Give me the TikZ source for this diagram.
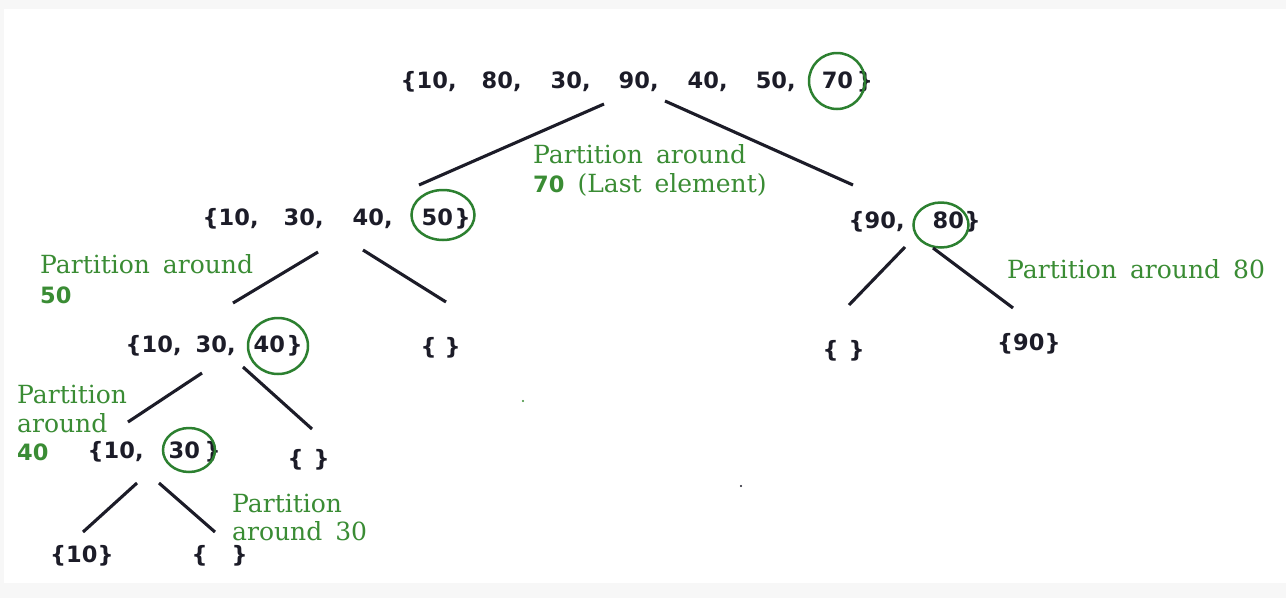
\documentclass[tikz,border=0pt]{standalone}
\usepackage{fontspec}
\setmainfont{DejaVu Serif}
\newfontfamily\datafont{DejaVu Sans}
\usetikzlibrary{shapes.geometric}
\definecolor{ink}{RGB}{28,28,40}
\definecolor{grn}{RGB}{58,140,52}
\definecolor{grc}{RGB}{44,128,48}
\definecolor{bggray}{RGB}{247,247,247}
\newcommand\tk[2]{\rlap{\hspace*{#1pt}#2}}
\newcommand\wsp{\hspace*{13pt}}
\newcommand\dnum[1]{{\datafont\bfseries\fontsize{22.5}{26}\selectfont #1}}
\tikzset{
  dat/.style={anchor=base west, inner sep=0pt, text=ink,
    font=\datafont\bfseries\fontsize{22.5}{26}\selectfont},
  lbl/.style={anchor=base west, inner sep=0pt, text=grn,
    font=\fontsize{25}{29}\selectfont},
  edge/.style={line width=3.1pt, draw=ink},
  pivot/.style={draw=grc, line width=2.5pt, ellipse, inner sep=0pt},
}
\begin{document}
\begin{tikzpicture}[x=1pt,y=-1pt]
\useasboundingbox (0,0) rectangle (1286,598);
\fill[bggray] (0,0) rectangle (1286,598);
\fill[white] (4,9) rectangle (1286,583);

% ---- data sets
\node[dat] (s0) at (400,88) {\tk{0}{\{10,}\tk{81}{80,}\tk{150}{30,}\tk{218}{90,}\tk{287}{40,}\tk{355}{50,}\tk{421}{70}\tk{456}{\}}};
\node[dat] (s1) at (202,225) {\tk{0}{\{10,}\tk{81}{30,}\tk{150}{40,}\tk{219}{50}\tk{252}{\}}};
\node[dat] (s2) at (848,228) {\tk{0}{\{90,}\tk{84}{80}\tk{116}{\}}};
\node[dat] (s3) at (125,352) {\tk{0}{\{10,}\tk{70}{30,}\tk{128}{40}\tk{161}{\}}};
\node[dat] (s4) at (420,354) {\tk{0}{\{}\tk{24}{\}}};
\node[dat] (s5) at (822,357) {\tk{0}{\{}\tk{26}{\}}};
\node[dat] (s6) at (997,350) {\{90\}};
\node[dat] (s7) at (87,458) {\tk{0}{\{10,}\tk{81}{30}\tk{117}{\}}};
\node[dat] (s8) at (287,466) {\tk{0}{\{}\tk{26}{\}}};
\node[dat] (s9) at (50,562) {\{10\}};
\node[dat] (s10) at (191,562) {\tk{0}{\{}\tk{40}{\}}};

% ---- pivot circles
\node[pivot, minimum width=56pt, minimum height=56pt] (c70) at (837,81) {};
\node[pivot, minimum width=63pt, minimum height=50pt] (c50) at (443,215) {};
\node[pivot, minimum width=55pt, minimum height=45pt] (c80) at (941,225) {};
\node[pivot, minimum width=60pt, minimum height=56pt] (c40) at (278,346) {};
\node[pivot, minimum width=52pt, minimum height=44pt] (c30) at (189,450) {};

% ---- green labels
\node[lbl] (p70a) at (533,163) {Partition\wsp around};
\node[lbl] (p70b) at (533,192) {\dnum{70}\wsp(Last\wsp element)};
\node[lbl] (p50a) at (40,273) {Partition\wsp around};
\node[lbl] (p50b) at (40,303) {\dnum{50}};
\node[lbl] (p80) at (1007,278) {Partition\wsp around\wsp 80};
\node[lbl] (p40a) at (17,403) {Partition};
\node[lbl] (p40b) at (17,432) {around};
\node[lbl] (p40c) at (17,460) {\dnum{40}};
\node[lbl] (p30a) at (232,512) {Partition};
\node[lbl] (p30b) at (232,540) {around\wsp 30};

% ---- connector ends
\coordinate (a0) at (604,104); \coordinate (a1) at (419,185);
\coordinate (b0) at (665,101); \coordinate (b1) at (853,185);
\coordinate (d0) at (318,252); \coordinate (d1) at (233,303);
\coordinate (e0) at (363,250); \coordinate (e1) at (446,302);
\coordinate (f0) at (905,247); \coordinate (f1) at (849,305);
\coordinate (g0) at (933,248); \coordinate (g1) at (1013,308);
\coordinate (h0) at (202,373); \coordinate (h1) at (128,422);
\coordinate (i0) at (243,367); \coordinate (i1) at (312,429);
\coordinate (j0) at (137,483); \coordinate (j1) at (83,532);
\coordinate (k0) at (159,483); \coordinate (k1) at (215,532);

\draw[edge] (a0) -- (a1);
\draw[edge] (b0) -- (b1);
\draw[edge] (d0) -- (d1);
\draw[edge] (e0) -- (e1);
\draw[edge] (f0) -- (f1);
\draw[edge] (g0) -- (g1);
\draw[edge] (h0) -- (h1);
\draw[edge] (i0) -- (i1);
\draw[edge] (j0) -- (j1);
\draw[edge] (k0) -- (k1);

% ---- stray dots
\fill[grn] (523,401) circle (1.1pt);
\fill[ink] (741,486) circle (1.2pt);
\end{tikzpicture}
\end{document}
